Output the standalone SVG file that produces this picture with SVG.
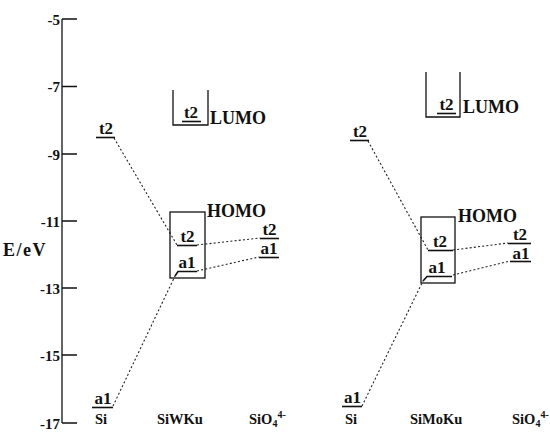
<svg xmlns="http://www.w3.org/2000/svg" width="550" height="432" viewBox="0 0 550 432">
  <style>
    .lv { font-family: "Liberation Serif", "Times New Roman", serif; font-weight: bold; font-size: 17px; fill: #111; text-anchor: middle; }
    .big { font-family: "Liberation Serif", "Times New Roman", serif; font-weight: bold; font-size: 18px; fill: #111; }
    .lab { font-family: "Liberation Serif", "Times New Roman", serif; font-weight: bold; font-size: 14.5px; fill: #111; }
    .ax { font-family: "Liberation Serif", "Times New Roman", serif; font-weight: bold; font-size: 15px; fill: #111; text-anchor: end; }
    .solid { stroke: #111; stroke-width: 1.3; fill: none; }
    .ul { stroke: #111; stroke-width: 1.6; fill: none; }
    .dot { stroke: #222; stroke-width: 1.1; stroke-dasharray: 2 2.2; fill: none; }
  </style>
  <rect width="550" height="432" fill="#fff"/>

  <!-- energy axis -->
  <g id="axis">
    <path class="solid" d="M62,19 V423"/>
    <path class="solid" d="M62,19 H77 M62,86.5 H77 M62,154 H77 M62,221 H77 M62,288 H77 M62,355 H77 M62,423 H77"/>
    <text class="ax" x="60" y="25">-5</text>
    <text class="ax" x="60" y="92">-7</text>
    <text class="ax" x="60" y="160">-9</text>
    <text class="ax" x="60" y="227">-11</text>
    <text class="ax" x="60" y="294">-13</text>
    <text class="ax" x="60" y="361">-15</text>
    <text class="ax" x="60" y="429">-17</text>
    <text class="big" x="3" y="256" font-size="17" letter-spacing="1.5">E/eV</text>
  </g>

  <!-- connectors -->
  <g id="connectors">
    <path class="dot" d="M114,138 L177,245"/>
    <path class="dot" d="M197,245 L260,238"/>
    <path class="dot" d="M197,271 L259,257"/>
    <path class="dot" d="M113,406 L175,276"/>
    <path class="dot" d="M368,141 L428,250"/>
    <path class="dot" d="M453,250 L508,243"/>
    <path class="dot" d="M453,275 L510,261"/>
    <path class="dot" d="M362,406 L423,281"/>
  </g>

  <!-- SiWKu panel -->
  <g id="si-left">
    <text class="lv" x="106" y="134">t2</text>
    <path class="ul" d="M96,137.5 H115"/>
    <text class="lv" x="103" y="404">a1</text>
    <path class="ul" d="M92,407.5 H113"/>
    <text class="lab" x="95" y="424">Si</text>
  </g>
  <g id="lumo-left">
    <path class="solid" d="M173,90 V125 H208 V90"/>
    <text class="lv" x="191" y="118">t2</text>
    <path class="ul" d="M182,121.5 H201"/>
    <text class="big" x="210" y="124">LUMO</text>
  </g>
  <g id="homo-left">
    <rect class="solid" x="170" y="212" width="35" height="66"/>
    <text class="big" x="207" y="217">HOMO</text>
    <text class="lv" x="187.5" y="242">t2</text>
    <path class="ul" d="M177,245.5 H197"/>
    <text class="lv" x="187" y="268">a1</text>
    <path class="ul" d="M175,276 L178,271.5 H197"/>
    <text class="lab" x="157" y="424">SiWKu</text>
  </g>
  <g id="sio4-left">
    <text class="lv" x="269.5" y="235">t2</text>
    <path class="ul" d="M260,238.5 H279"/>
    <text class="lv" x="269" y="254">a1</text>
    <path class="ul" d="M259,257.5 H279"/>
    <text class="lab" x="249" y="424">SiO<tspan font-size="10" dy="3">4</tspan><tspan font-size="10" dy="-9">4-</tspan></text>
  </g>

  <!-- SiMoKu panel -->
  <g id="si-right">
    <text class="lv" x="360" y="137">t2</text>
    <path class="ul" d="M350,140.5 H369"/>
    <text class="lv" x="352.5" y="403">a1</text>
    <path class="ul" d="M342,406.5 H362"/>
    <text class="lab" x="345" y="424">Si</text>
  </g>
  <g id="lumo-right">
    <path class="solid" d="M426,72 V117 H460 V72"/>
    <text class="lv" x="446.5" y="110">t2</text>
    <path class="ul" d="M437,113.5 H456"/>
    <text class="big" x="463" y="113">LUMO</text>
  </g>
  <g id="homo-right">
    <rect class="solid" x="421" y="217" width="34" height="66"/>
    <text class="big" x="458" y="222">HOMO</text>
    <text class="lv" x="440" y="247">t2</text>
    <path class="ul" d="M428,250.5 H453"/>
    <text class="lv" x="437" y="273">a1</text>
    <path class="ul" d="M423,281 L427,276.5 H452"/>
    <text class="lab" x="410" y="424">SiMoKu</text>
  </g>
  <g id="sio4-right">
    <text class="lv" x="520" y="240">t2</text>
    <path class="ul" d="M508,243.5 H531"/>
    <text class="lv" x="521" y="259">a1</text>
    <path class="ul" d="M510,261.5 H531"/>
    <text class="lab" x="512" y="424">SiO<tspan font-size="10" dy="3">4</tspan><tspan font-size="10" dy="-9">4-</tspan></text>
  </g>
</svg>
